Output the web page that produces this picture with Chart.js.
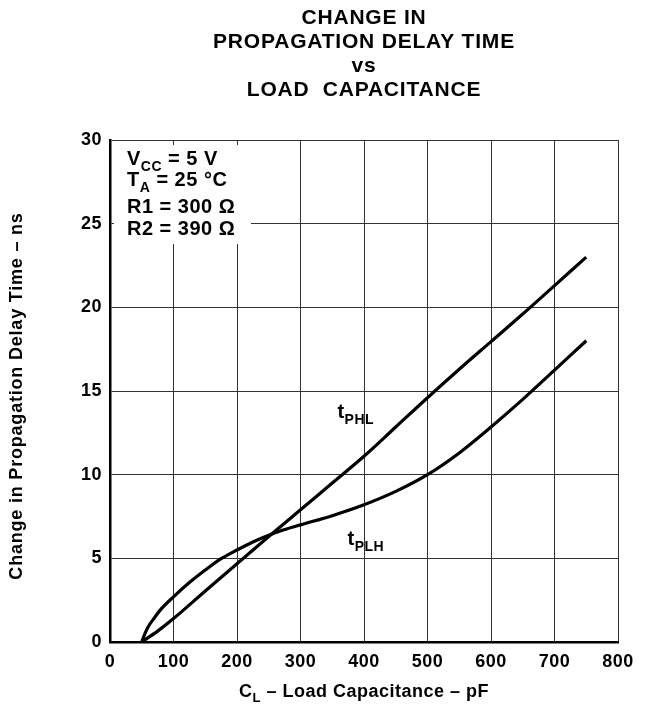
<!DOCTYPE html>
<html><head><meta charset="utf-8">
<script src="https://cdn.jsdelivr.net/npm/chart.js@4/dist/chart.umd.min.js"></script>
<style>html,body{margin:0;padding:0;background:#fff}#wrap{width:647px;height:714px}</style>
</head><body><div id="wrap"><canvas id="c" width="647" height="714"></canvas></div>
<script>
const xTicks = [0,100,200,300,400,500,600,700,800];
const yTicks = [0,5,10,15,20,25,30];
const tPHL_x = [50,75,100,150,200,250,300,350,400,450,500,550,600,650,700,750];
const tPHL_y = [0,0.65,1.4,3.05,4.68,6.3,7.9,9.5,11.1,12.85,14.6,16.3,17.95,19.6,21.3,23.0];
const tPLH_x = [50,55,60,70,80,100,125,150,175,200,225,250,275,300,350,400,450,500,550,600,650,700,750];
const tPLH_y = [0,0.5,0.9,1.45,1.95,2.7,3.55,4.3,4.98,5.5,5.98,6.38,6.72,7.0,7.55,8.2,9.0,10.0,11.3,12.85,14.5,16.25,18.0];
const titleLines = ["CHANGE IN","PROPAGATION DELAY TIME","vs","LOAD  CAPACITANCE"];
const yTitle = "Change in Propagation Delay Time – ns";

const F = "'Liberation Sans', Arial, Helvetica, sans-serif";
function pts(xs, ys){ return xs.map((x,i)=>({x:x,y:ys[i]})); }

function drawRich(ctx, parts, x, y, size, align, ls){
  ctx.save();
  ctx.letterSpacing = ls || '0.5px';
  ctx.textBaseline = 'alphabetic';
  const subSize = Math.round(size*0.72);
  let w = 0;
  parts.forEach(p=>{ ctx.font = 'bold '+(p[1]?subSize:size)+'px '+F; w += ctx.measureText(p[0]).width; });
  let cx = align==='center' ? x - w/2 : x;
  parts.forEach(p=>{
    ctx.font = 'bold '+(p[1]?subSize:size)+'px '+F;
    ctx.textAlign='left';
    ctx.fillText(p[0], cx, p[1] ? y + size*0.3 : y);
    cx += ctx.measureText(p[0]).width;
  });
  ctx.restore();
}

const textPlugin = {
  id:'texts',
  beforeDraw(chart){ chart.ctx.letterSpacing = '0.5px'; },
  beforeDatasetsDraw(chart){
    const ctx = chart.ctx, xs = chart.scales.x, ys = chart.scales.y;
    ctx.save();
    ctx.fillStyle='#fff';
    ctx.fillRect(xs.left+4, ys.top+5, 137, 99);
    ctx.restore();
  },
  afterDraw(chart){
    const ctx = chart.ctx, xs = chart.scales.x, ys = chart.scales.y;
    ctx.fillStyle = '#000';
    const cx = (xs.left + xs.right)/2;
    ctx.save();
    ctx.letterSpacing = '0.8px';
    ctx.textAlign='center'; ctx.textBaseline='middle';
    ctx.font = 'bold 21px '+F;
    const ty = [18,42,66,90];
    titleLines.forEach((t,i)=>ctx.fillText(t, cx, ty[i]));
    ctx.restore();
    ctx.save();
    ctx.letterSpacing = '0.8px';
    ctx.translate(17, 396);
    ctx.rotate(-Math.PI/2);
    ctx.textAlign='center'; ctx.textBaseline='middle';
    ctx.font = 'bold 18px '+F;
    ctx.fillText(yTitle, 0, 0);
    ctx.restore();
    drawRich(ctx, [["C",false],["L",true],[" – Load Capacitance – pF",false]], cx, 697, 18, 'center');
    const lx = xs.left + 17;
    drawRich(ctx, [["V",false],["CC",true],[" = 5 V",false]], lx, ys.top+25, 20, 'left');
    drawRich(ctx, [["T",false],["A",true],[" = 25 °C",false]], lx, ys.top+46, 20, 'left');
    drawRich(ctx, [["R1 = 300 Ω",false]], lx, ys.top+73, 20, 'left');
    drawRich(ctx, [["R2 = 390 Ω",false]], lx, ys.top+95, 20, 'left');
    drawRich(ctx, [["t",false],["PHL",true]], xs.getPixelForValue(387), ys.getPixelForValue(13.4), 20, 'center');
    drawRich(ctx, [["t",false],["PLH",true]], xs.getPixelForValue(403), ys.getPixelForValue(5.8), 20, 'center');
  }
};

new Chart(document.getElementById('c'), {
  type:'line',
  data:{ datasets:[
    {label:'tPHL', data:pts(tPHL_x,tPHL_y), borderColor:'#000', borderWidth:3.2, pointRadius:0, cubicInterpolationMode:'monotone', fill:false},
    {label:'tPLH', data:pts(tPLH_x,tPLH_y), borderColor:'#000', borderWidth:3.2, pointRadius:0, cubicInterpolationMode:'monotone', fill:false}
  ]},
  options:{
    responsive:false, animation:false, devicePixelRatio:1,
    layout:{padding:{left:0,right:29,top:140,bottom:0}},
    plugins:{legend:{display:false}, tooltip:{enabled:false}, title:{display:false}},
    scales:{
      x:{type:'linear', min:0, max:800,
        afterBuildTicks(s){ s.ticks = xTicks.map(v=>({value:v})); },
        afterFit(s){ s.height = 72; },
        grid:{color:'#333', lineWidth:1, drawTicks:false},
        border:{color:'#000', width:2.5},
        ticks:{color:'#000', font:{family:F, weight:'bold', size:18}, padding:9, maxRotation:0, autoSkip:false}
      },
      y:{type:'linear', min:0, max:30,
        afterBuildTicks(s){ s.ticks = yTicks.map(v=>({value:v})); },
        afterFit(s){ s.width = 110; },
        grid:{color:'#333', lineWidth:1, drawTicks:false},
        border:{color:'#000', width:2.5},
        ticks:{color:'#000', font:{family:F, weight:'bold', size:18}, padding:8, autoSkip:false}
      }
    }
  },
  plugins:[textPlugin]
});
</script></body></html>
